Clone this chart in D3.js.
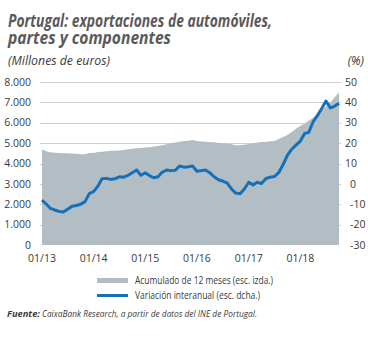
<!DOCTYPE html>
<html>
<head>
<meta charset="utf-8">
<script src="https://cdn.jsdelivr.net/npm/d3@7"></script>
<style>
  html, body { margin: 0; padding: 0; background: #fff; }
  svg { display: block; }
</style>
</head>
<body>
<svg id="chart" width="368" height="338"></svg>
<script>
// ---- Data ----
const startMonth = new Date(2013, 0, 1);
const endMonth = new Date(2018, 9, 1);
const months = d3.timeMonth.range(startMonth, d3.timeMonth.offset(endMonth, 1));

// Acumulado de 12 meses (millones de euros, esc. izda.)
const acumulado = [
  4700, 4600, 4550, 4530, 4520, 4500, 4500, 4490, 4480, 4460, 4450, 4520,
  4510, 4560, 4580, 4600, 4620, 4630, 4640, 4660, 4700, 4730, 4750, 4760,
  4780, 4800, 4830, 4860, 4900, 4950, 4990, 5030, 5070, 5100, 5120, 5150,
  5100, 5080, 5070, 5050, 5040, 5020, 5000, 4980, 4950, 4900, 4890, 4920,
  4960, 4990, 5020, 5050, 5060, 5090, 5110, 5200, 5300, 5400, 5550, 5700,
  5850, 5950, 6100, 6250, 6400, 6600, 6800, 7000, 7250, 7480
];

// Variación interanual (%, esc. dcha.)
const variacion = [
  -8, -10, -12, -12.8, -13.5, -13.8, -12.5, -11, -10.6, -10, -8.7, -4.8,
  -3.8, -1, 2.5, 2.7, 2.2, 2.5, 3.5, 3.3, 4.2, 5.5, 6.8, 4.2,
  5.5, 4, 3, 3.5, 5.8, 6.8, 6.5, 6.7, 8.8, 8.2, 8.4, 8.8,
  6.2, 6.5, 6.8, 5.5, 3.5, 2, 1.4, 0.5, -2.5, -4.5, -4.8, -2.5,
  0.8, -0.5, 0.8, 0.2, 2.5, 3.3, 3.6, 5.5, 9.5, 14, 17, 19,
  21, 24.8, 25.2, 30.5, 33.5, 37, 40.7, 37.3, 38.2, 39.5
];

const leftTicks = [0, 1000, 2000, 3000, 4000, 5000, 6000, 7000, 8000];
const leftTickLabels = ["0", "1.000", "2.000", "3.000", "4.000", "5.000", "6.000", "7.000", "8.000"];
const rightTicks = [-30, -20, -10, 0, 10, 20, 30, 40, 50];
const xTickDates = [2013, 2014, 2015, 2016, 2017, 2018].map(y => new Date(y, 0, 1));
const xTickLabels = ["01/13", "01/14", "01/15", "01/16", "01/17", "01/18"];

const title1 = "Portugal: exportaciones de automóviles,";
const title2 = "partes y componentes";
const subtitle = "(Millones de euros)";
const rightUnit = "(%)";
const legendLabels = ["Acumulado de 12 meses (esc. izda.)", "Variación interanual (esc. dcha.)"];
const sourceBold = "Fuente:";
const sourceText = "CaixaBank Research, a partir de datos del INE de Portugal.";

// ---- Styles ----
const FONT = "'Open Sans', 'Noto Sans', sans-serif";
const TEXT_COL = "#3a3a3a";
const TITLE_COL = "#5a5a5a";
const AREA_COL = "#b3bdc4";
const LINE_COL = "#1570ba";
const GRID_COL = "#cfcfcf";

const svg = d3.select("#chart");

const x = d3.scaleTime().domain([startMonth, endMonth]).range([42, 339]);
const yL = d3.scaleLinear().domain([0, 8000]).range([245, 82]);
const yR = d3.scaleLinear().domain([-30, 50]).range([245, 82]);

// Title (one text element, two lines)
const title = svg.append("text")
  .attr("font-family", FONT).attr("font-weight", "bold").attr("font-style", "italic")
  .attr("font-size", 17).attr("fill", TITLE_COL);
title.append("tspan").attr("x", 8).attr("y", 27)
  .attr("textLength", 264).attr("lengthAdjust", "spacingAndGlyphs")
  .text(title1);
title.append("tspan").attr("x", 8).attr("y", 44)
  .attr("textLength", 163).attr("lengthAdjust", "spacingAndGlyphs")
  .text(title2);

svg.append("text").attr("x", 8).attr("y", 65)
  .attr("font-family", FONT).attr("font-style", "italic")
  .attr("font-size", 12).attr("fill", TEXT_COL)
  .attr("textLength", 102).attr("lengthAdjust", "spacingAndGlyphs")
  .text(subtitle);
svg.append("text").attr("x", 364).attr("y", 65).attr("text-anchor", "end")
  .attr("font-family", FONT).attr("font-style", "italic")
  .attr("font-size", 12).attr("fill", TEXT_COL)
  .text(rightUnit);

// Gridlines
svg.append("g").selectAll("line")
  .data(leftTicks.filter(d => d > 0))
  .join("line")
  .attr("x1", 40).attr("x2", 341)
  .attr("y1", d => Math.round(yL(d)) + 0.5).attr("y2", d => Math.round(yL(d)) + 0.5)
  .attr("stroke", GRID_COL).attr("stroke-width", 1);

// Area
const area = d3.area()
  .x((d, i) => x(months[i]))
  .y0(yL(0))
  .y1(d => yL(d));
svg.append("path").datum(acumulado)
  .attr("d", area).attr("fill", AREA_COL);

// Line
const line = d3.line()
  .x((d, i) => x(months[i]))
  .y(d => yR(d));
svg.append("path").datum(variacion)
  .attr("d", line).attr("fill", "none")
  .attr("stroke", LINE_COL).attr("stroke-width", 3)
  .attr("stroke-linejoin", "round").attr("stroke-linecap", "butt");

// Left axis labels
svg.append("g").selectAll("text")
  .data(leftTicks)
  .join("text")
  .attr("x", 31).attr("y", d => yL(d)).attr("dy", "0.35em")
  .attr("text-anchor", "end")
  .attr("font-family", FONT).attr("font-size", 10.5).attr("fill", TEXT_COL)
  .text((d, i) => leftTickLabels[i]);

// Right axis labels
svg.append("g").selectAll("text")
  .data(rightTicks)
  .join("text")
  .attr("x", d => d > 0 ? 345 : 350).attr("y", d => yR(d)).attr("dy", "0.35em")
  .attr("text-anchor", "start")
  .attr("font-family", FONT).attr("font-size", 10.5).attr("fill", TEXT_COL)
  .text(d => String(d));

// X axis labels
svg.append("g").selectAll("text")
  .data(xTickDates)
  .join("text")
  .attr("x", d => x(d)).attr("y", 262)
  .attr("text-anchor", "middle")
  .attr("font-family", FONT).attr("font-size", 10.5).attr("fill", TEXT_COL)
  .text((d, i) => xTickLabels[i]);

// Legend
svg.append("rect").attr("x", 97).attr("y", 278).attr("width", 31).attr("height", 5)
  .attr("fill", AREA_COL);
svg.append("line").attr("x1", 97).attr("x2", 128).attr("y1", 295.5).attr("y2", 295.5)
  .attr("stroke", LINE_COL).attr("stroke-width", 3);
svg.append("text").attr("x", 135).attr("y", 284)
  .attr("font-family", FONT).attr("font-size", 10).attr("fill", TEXT_COL)
  .attr("textLength", 138).attr("lengthAdjust", "spacingAndGlyphs")
  .text(legendLabels[0]);
svg.append("text").attr("x", 135).attr("y", 298.5)
  .attr("font-family", FONT).attr("font-size", 10).attr("fill", TEXT_COL)
  .attr("textLength", 125).attr("lengthAdjust", "spacingAndGlyphs")
  .text(legendLabels[1]);

// Source
const src = svg.append("text").attr("x", 7).attr("y", 317)
  .attr("font-family", FONT).attr("font-size", 9.5).attr("fill", TEXT_COL)
  .attr("font-style", "italic");
src.append("tspan").attr("font-weight", "bold").attr("textLength", 33)
  .attr("lengthAdjust", "spacingAndGlyphs").text(sourceBold);
src.append("tspan").attr("dx", 2).attr("textLength", 215)
  .attr("lengthAdjust", "spacingAndGlyphs").text(sourceText);
</script>
</body>
</html>
